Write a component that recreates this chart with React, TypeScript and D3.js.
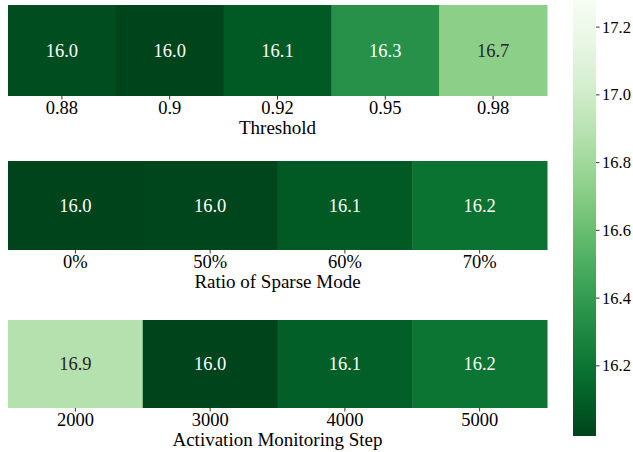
import React from 'react';
import * as d3 from 'd3';

const thresholds = ['0.88', '0.9', '0.92', '0.95', '0.98'];
const thresholdValues = [16.03, 15.99, 16.08, 16.34, 16.72];

const sparseRatios = ['0%', '50%', '60%', '70%'];
const sparseValues = [15.99, 16.0, 16.08, 16.19];

const monitorSteps = ['2000', '3000', '4000', '5000'];
const monitorValues = [16.88, 15.99, 16.1, 16.2];

const colorTicks = [16.2, 16.4, 16.6, 16.8, 17.0, 17.2];
const colorDomain: [number, number] = [15.993, 17.28];

const W = 633;
const H = 452;

// reversed Greens: dark = low
const color = d3.scaleSequential((t: number) => d3.interpolateGreens(1 - t)).domain(colorDomain);

const panels = [
  { title: 'Threshold', labels: thresholds, values: thresholdValues, top: 5, bottom: 96 },
  { title: 'Ratio of Sparse Mode', labels: sparseRatios, values: sparseValues, top: 161, bottom: 250 },
  { title: 'Activation Monitoring Step', labels: monitorSteps, values: monitorValues, top: 320, bottom: 408 },
];

const textColor = (v: number) => {
  const c = d3.rgb(color(v));
  const lum = (0.299 * c.r + 0.587 * c.g + 0.114 * c.b) / 255;
  return lum > 0.5 ? '#262626' : '#ffffff';
};

const txt: React.CSSProperties = { fontFamily: 'Liberation Serif', fontSize: 18.5 };
const cbTxt: React.CSSProperties = { fontFamily: 'Liberation Serif', fontSize: 16.5 };

export default function App() {
  const left = 8;
  const right = 547;
  const cbX = 573;
  const cbW = 23;
  const cbY = d3.scaleLinear().domain(colorDomain).range([436, 0]);
  const stops = d3.range(0, 1.0001, 0.05);

  return (
    <svg width={W} height={H} style={{ position: 'absolute', left: 0, top: 0 }}>
      <defs>
        <linearGradient id="cb" x1="0" y1="1" x2="0" y2="0">
          {stops.map(t => (
            <stop key={t} offset={t} stopColor={color(colorDomain[0] + t * (colorDomain[1] - colorDomain[0]))} />
          ))}
        </linearGradient>
      </defs>
      {panels.map(p => {
        const x = d3.scaleBand().domain(p.labels).range([left, right]);
        const mid = (p.top + p.bottom) / 2;
        return (
          <g key={p.title}>
            {p.labels.map((l, i) => (
              <g key={l}>
                <rect x={x(l)} y={p.top} width={x.bandwidth() + 0.5} height={p.bottom - p.top} fill={color(p.values[i])} />
                <text x={x(l)! + x.bandwidth() / 2} y={mid} textAnchor="middle" dominantBaseline="central"
                  style={txt} fill={textColor(p.values[i])}>
                  {p.values[i].toFixed(1)}
                </text>
                <line x1={x(l)! + x.bandwidth() / 2} x2={x(l)! + x.bandwidth() / 2} y1={p.bottom} y2={p.bottom + 3.5}
                  stroke="#000" strokeWidth={0.8} />
                <text x={x(l)! + x.bandwidth() / 2} y={p.bottom + 11.5} textAnchor="middle" dominantBaseline="central"
                  style={txt} fill="#000">
                  {l}
                </text>
              </g>
            ))}
            <text x={(left + right) / 2} y={p.bottom + 31} textAnchor="middle" dominantBaseline="central"
              style={{ ...txt, fontSize: 19 }} fill="#000">
              {p.title}
            </text>
          </g>
        );
      })}
      <rect x={cbX} y={0} width={cbW} height={436} fill="url(#cb)" />
      {colorTicks.map(t => (
        <g key={t} transform={`translate(${cbX + cbW},${cbY(t)})`}>
          <line x1={0} x2={3.5} stroke="#000" strokeWidth={0.8} />
          <text x={6} dominantBaseline="central" style={cbTxt} fill="#000">{t.toFixed(1)}</text>
        </g>
      ))}
    </svg>
  );
}
